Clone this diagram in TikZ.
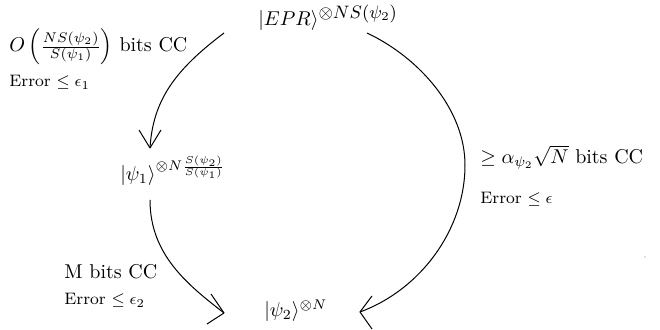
\documentclass[tikz,border=0pt]{standalone}
\usepackage{amsmath,amssymb}
\begin{document}
\begin{tikzpicture}[x=0.5pt,y=-0.5pt,
  lbl/.style={anchor=base west,inner sep=0pt,font=\fontsize{10}{12}\selectfont},
  errlbl/.style={anchor=base west,inner sep=0pt,font=\fontsize{8.3}{10}\selectfont},
  curve/.style={line width=0.5pt},
  head/.style={line width=0.5pt}]
\useasboundingbox (0,0) rectangle (660,330);
% states
\node[lbl] (epr) at (258,26) {$|EPR\rangle^{\mbox{\fontsize{9}{11}\selectfont$\otimes NS(\psi_2)$}}$};
\node[lbl] (psi1) at (120,181) {$|\psi_1\rangle^{\otimes N\frac{S(\psi_2)}{S(\psi_1)}}$};
\node[lbl] (psi2) at (264,317) {$|\psi_2\rangle^{\otimes N}$};
% labels
\node[lbl] (lab1) at (9,52) {$O\left(\frac{NS(\psi_2)}{S(\psi_1)}\right)$ bits CC};
\node[errlbl] (err1) at (9,87) {Error $\leq \epsilon_1$};
\node[lbl] (lab3) at (480,164) {$\geq \alpha_{\psi_2}\sqrt{N}$ bits CC};
\node[errlbl] (err3) at (480,204) {Error $\leq \epsilon$};
\node[lbl] (lab2) at (64,279) {M bits CC};
\node[errlbl] (err2) at (64,305) {Error $\leq \epsilon_2$};
% connector ends
\coordinate (a1s) at (224,33);
\coordinate (a1t) at (150,148);
\coordinate (a2s) at (150,200);
\coordinate (a2t) at (224,313);
\coordinate (a3s) at (367,33);
\coordinate (a3m) at (465,165);
\coordinate (a3t) at (360,312);
% connectors
\draw[curve] (a1s) .. controls (175,70) and (153,100) .. (a1t);
\draw[head] (a1t) -- ++(-11,-18) (a1t) -- ++(11,-18);
\draw[curve] (a2s) .. controls (150,255) and (188,285) .. (a2t);
\draw[head] (a2t) -- ++(-13,-19) (a2t) -- ++(-17,11);
\draw[curve] (a3s) .. controls (420,58) and (465,110) .. (a3m)
  .. controls (465,230) and (420,290) .. (a3t);
\draw[head] (a3t) -- ++(12,-16) (a3t) -- ++(12,17);
% stray dot
\fill[gray] (645,257) circle (0.6);
\end{tikzpicture}
\end{document}
